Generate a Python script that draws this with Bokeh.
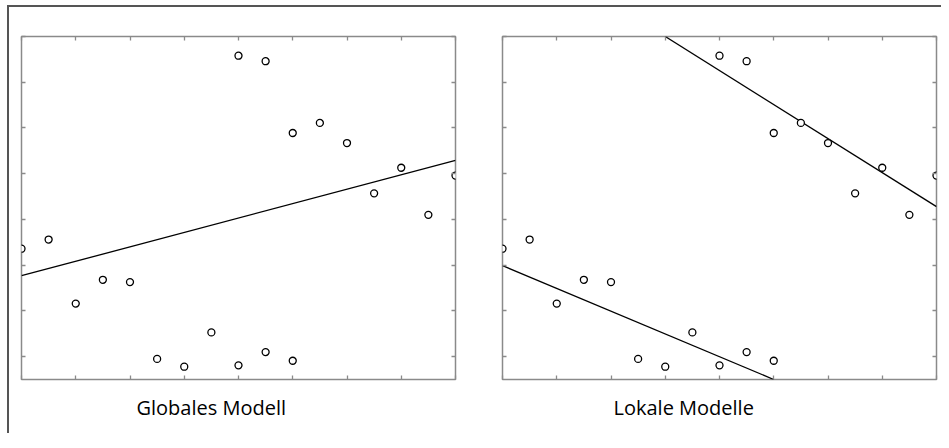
from bokeh.plotting import figure
from bokeh.models import Range1d, LinearAxis, FixedTicker, Title, CustomJSTickFormatter
from bokeh.layouts import row
from bokeh.embed import file_html
from bokeh.resources import INLINE

# data
x_low = [0, 1, 2, 3, 4, 5, 6, 7, 8, 9, 10]
y_low = [2.86, 3.06, 1.66, 2.18, 2.13, 0.45, 0.28, 1.03, 0.31, 0.60, 0.41]
x_high = [8, 9, 10, 11, 12, 13, 14, 15, 16]
y_high = [7.08, 6.96, 5.39, 5.61, 5.17, 4.07, 4.63, 3.60, 4.46]

global_x = [0, 16]
global_y = [2.27, 4.79]
local1_x = [0, 10]
local1_y = [2.49, 0.0]
local2_x = [6, 16]
local2_y = [7.5, 3.78]

x_ticks = [0, 2, 4, 6, 8, 10, 12, 14, 16]
y_ticks = [0.5, 1.5, 2.5, 3.5, 4.5, 5.5, 6.5, 7.5]

titles = ["Globales Modell", "Lokale Modelle"]

FRAME = "#8a8a8a"


def make_panel(lines, title, toff, bl, br):
    p = figure(frame_width=434, frame_height=343, output_backend="svg",
               toolbar_location=None, x_range=Range1d(0, 16), y_range=Range1d(0, 7.5),
               min_border_left=bl, min_border_right=br, min_border_top=29,
               min_border_bottom=30, x_axis_location=None, y_axis_location=None)
    p.grid.visible = False
    p.outline_line_color = FRAME
    p.outline_line_width = 1.5
    p.background_fill_color = "white"
    p.border_fill_color = "white"
    for loc, dim in (("below", "x"), ("above", "x"), ("left", "y"), ("right", "y")):
        ax = LinearAxis(ticker=FixedTicker(ticks=x_ticks if dim == "x" else y_ticks),
                        formatter=CustomJSTickFormatter(code="return ''"))
        ax.major_tick_in = 4
        ax.major_tick_out = 0
        ax.minor_tick_in = 0
        ax.minor_tick_out = 0
        ax.major_tick_line_color = FRAME
        ax.major_tick_line_width = 1.3
        ax.axis_line_color = None
        ax.major_label_text_font_size = "0px"
        ax.major_label_standoff = 0
        p.add_layout(ax, loc)
    for lx, ly in lines:
        p.line(lx, ly, line_color="black", line_width=1.3)
    p.scatter(x_low + x_high, y_low + y_high, marker="circle", size=7,
              fill_color="white", line_color="black", line_width=1.3)
    t = Title(text=title, align="left", offset=toff, text_font="Open Sans",
              text_font_size="20px", text_font_style="normal", text_color="black",
              standoff=25)
    p.add_layout(t, "below")
    return p


p1 = make_panel([(global_x, global_y)], titles[0], 115, 12, 25)
p2 = make_panel([(local1_x, local1_y), (local2_x, local2_y)], titles[1], 111, 22, 5)

layout = row(p1, p2, styles={"border-top": "2px solid #555", "border-left": "2px solid #555",
                             "margin-left": "7px", "margin-top": "5px",
                             "background-color": "white"})

open("out.html", "w").write(file_html(layout, INLINE))
